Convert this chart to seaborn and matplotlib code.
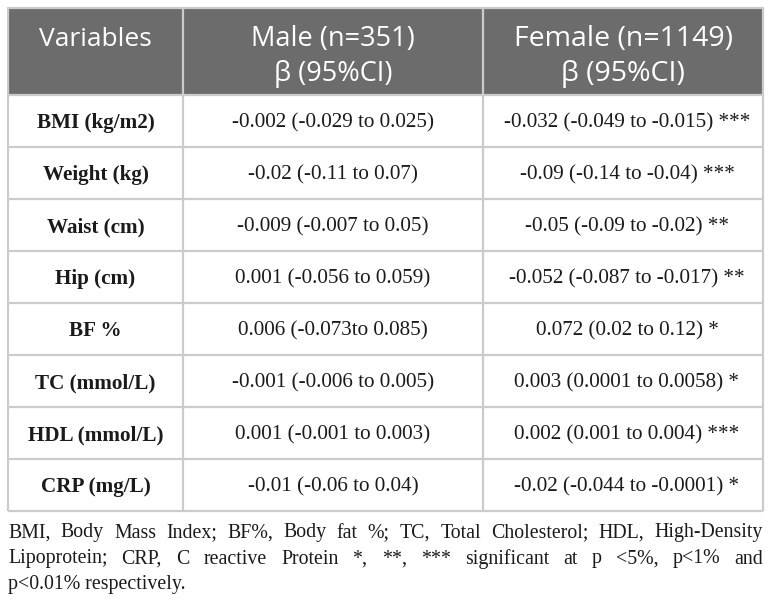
import matplotlib
matplotlib.use("Agg")
import matplotlib.pyplot as plt
import seaborn as sns
from matplotlib.patches import Rectangle

sns.set_theme(style="white")

# ---- data ----
header_line1 = ["Variables", "Male (n=351)", "Female (n=1149)"]
header_line2 = ["", "β (95%CI)", "β (95%CI)"]
variables = ["BMI (kg/m2)", "Weight (kg)", "Waist (cm)", "Hip (cm)", "BF %",
             "TC (mmol/L)", "HDL (mmol/L)", "CRP (mg/L)"]
male = ["-0.002 (-0.029 to 0.025)", "-0.02 (-0.11 to 0.07)", "-0.009 (-0.007 to 0.05)",
        "0.001 (-0.056 to 0.059)", "0.006 (-0.073to 0.085)", "-0.001 (-0.006 to 0.005)",
        "0.001 (-0.001 to 0.003)", "-0.01 (-0.06 to 0.04)"]
female = ["-0.032 (-0.049 to -0.015) ***", "-0.09 (-0.14 to -0.04) ***", "-0.05 (-0.09 to -0.02) **",
          "-0.052 (-0.087 to -0.017) **", "0.072 (0.02 to 0.12) *", "0.003 (0.0001 to 0.0058) *",
          "0.002 (0.001 to 0.004) ***", "-0.02 (-0.044 to -0.0001) *"]
footnote_lines = [
    "BMI, Body Mass Index; BF%, Body fat %; TC, Total Cholesterol; HDL, High-Density",
    "Lipoprotein; CRP, C reactive Protein *, **, *** significant at p <5%, p<1% and",
    "p<0.01% respectively.",
]

# ---- layout ----
W, H = 772, 604
col_edges = [8, 183, 483, 763]
top, head_bot = 8, 95
row_h = 52
header_color = "#6c6c6c"
grid_color = "#cbcbcb"
text_color = "#1a1a1a"
serif = ["Liberation Serif", "DejaVu Serif"]
sans = ["Open Sans", "DejaVu Sans"]
body_fs = 15.2
foot_fs = 14.3

fig = plt.figure(figsize=(W / 100, H / 100), dpi=100)
ax = fig.add_axes([0, 0, 1, 1])
ax.set_xlim(0, W)
ax.set_ylim(H, 0)
ax.axis("off")

# header background
ax.add_patch(Rectangle((col_edges[0], top), col_edges[-1] - col_edges[0], head_bot - top,
                       facecolor=header_color, edgecolor="none"))
n = len(variables)
bottom = head_bot + n * row_h

# grid lines
for i in range(n + 1):
    y = head_bot + i * row_h
    ax.plot([col_edges[0], col_edges[-1]], [y, y], color=grid_color, lw=1.6, solid_capstyle="butt")
ax.plot([col_edges[0], col_edges[-1]], [top, top], color=grid_color, lw=1.6)
for x in col_edges:
    ax.plot([x, x], [top, bottom], color=grid_color, lw=1.6, solid_capstyle="butt")

centers = [(col_edges[i] + col_edges[i + 1]) / 2 for i in range(3)]
head_fs = [19, 19.5, 20.5]

# header text
for c, l1, l2, hf in zip(centers, header_line1, header_line2, head_fs):
    ax.text(c, 39, l1, ha="center", va="center", color="white", fontsize=hf, family=sans)
    if l2:
        ax.text(c, 74, l2, ha="center", va="center", color="white", fontsize=hf, family=sans)

# body
for i in range(n):
    yc = head_bot + (i + 0.5) * row_h + 2
    ax.text(centers[0], yc, variables[i], ha="center", va="center", color=text_color,
            fontsize=body_fs, fontweight="bold", family=serif)
    ax.text(centers[1], yc, male[i], ha="center", va="center", color=text_color,
            fontsize=body_fs, family=serif)
    ax.text(centers[2] + 4, yc, female[i], ha="center", va="center", color=text_color,
            fontsize=body_fs, family=serif)

# footnote (justified)
fig.canvas.draw()
renderer = fig.canvas.get_renderer()
left, right = 8, 763
foot_y = [533, 559, 584]
for li, (line, y) in enumerate(zip(footnote_lines, foot_y)):
    words = line.split(" ")
    if li == len(footnote_lines) - 1:
        ax.text(left, y, line, ha="left", va="center", fontsize=foot_fs, family=serif, color=text_color)
        continue
    widths = []
    for w in words:
        t = ax.text(0, 0, w, fontsize=foot_fs, family=serif)
        widths.append(t.get_window_extent(renderer).width)
        t.remove()
    gap = ((right - left) - sum(widths)) / (len(words) - 1)
    x = left
    for w, wd in zip(words, widths):
        ax.text(x, y, w, ha="left", va="center", fontsize=foot_fs, family=serif, color=text_color)
        x += wd + gap

fig.savefig("out.png", dpi=100)
